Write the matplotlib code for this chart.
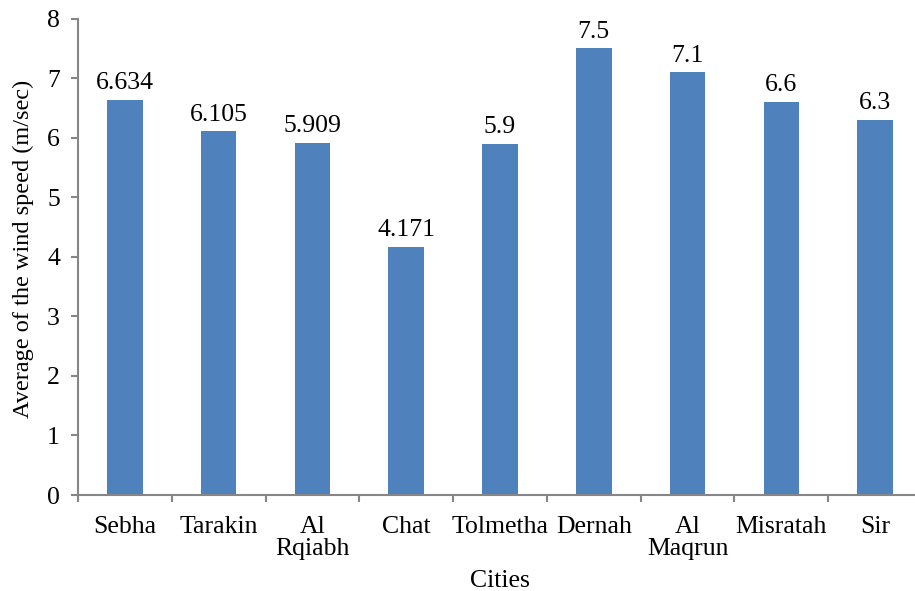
import matplotlib
matplotlib.use("Agg")
import matplotlib.pyplot as plt
import numpy as np

cities = ["Sebha", "Tarakin", "Al\nRqiabh", "Chat", "Tolmetha", "Dernah", "Al\nMaqrun", "Misratah", "Sir"]
speeds = [6.634, 6.105, 5.909, 4.171, 5.9, 7.5, 7.1, 6.6, 6.3]
value_labels = ["6.634", "6.105", "5.909", "4.171", "5.9", "7.5", "7.1", "6.6", "6.3"]
yticks = [0, 1, 2, 3, 4, 5, 6, 7, 8]

plt.rcParams['font.family'] = ['Liberation Serif', 'DejaVu Serif']

FS = 18.5
W, H = 915, 591
fig = plt.figure(figsize=(W / 100, H / 100), dpi=100)
left, right, bottom, top = 78, 922, 495, 18.5
ax = fig.add_axes([left / W, (H - bottom) / H, (right - left) / W, (bottom - top) / H])

x = np.arange(len(cities))
ax.bar(x, speeds, width=0.38, color="#4F81BD", zorder=2)
for xi, v, lab in zip(x, speeds, value_labels):
    ax.annotate(lab, (xi, v), xytext=(0, 4), textcoords="offset points",
                ha="center", va="bottom", fontsize=FS, color="#000000")

ax.set_xlim(-0.5, len(cities) - 0.5)
ax.set_ylim(0, 8)
ax.set_yticks(yticks)
ax.set_yticklabels([str(t) for t in yticks], fontsize=FS)
ax.set_xticks(x)
ax.set_xticklabels(cities, fontsize=FS, linespacing=1.0, va="top")
ax.set_xticks(np.arange(-0.5, len(cities) + 0.5, 1), minor=True)
ax.tick_params(axis="x", which="major", length=0, pad=15)
ax.tick_params(axis="x", which="minor", length=5, width=1.5, color="#868686", direction="out")
ax.tick_params(axis="y", length=5, width=1.5, color="#868686", direction="out", pad=8)

for s in ["top", "right"]:
    ax.spines[s].set_visible(False)
for s in ["left", "bottom"]:
    ax.spines[s].set_color("#868686")
    ax.spines[s].set_linewidth(1.5)

ax.set_xlabel("Cities", fontsize=FS, labelpad=7)
ax.set_ylabel("Average of the wind speed (m/sec)", fontsize=17.5)
ax.yaxis.set_label_coords(-0.052, 0.516)

fig.savefig("out.png", dpi=100)
